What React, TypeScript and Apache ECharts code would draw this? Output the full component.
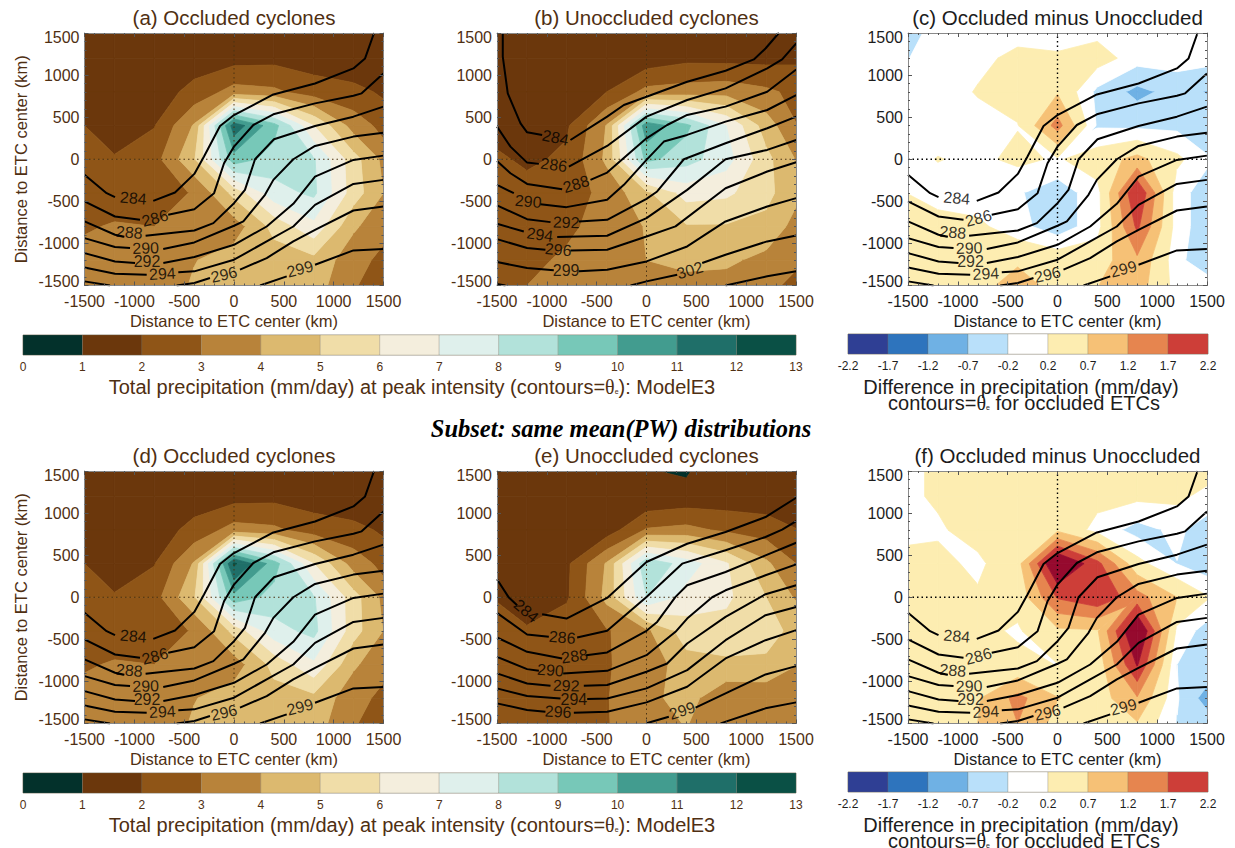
import React, { useEffect, useRef } from "react";
import * as echarts from "echarts";

const NODE_X = [-1600, -1200, -800, -400, 0, 400, 800, 1200, 1600];
const NODE_Y = [1600, 1200, 800, 400, 0, -400, -800, -1200, -1600];

const PRECIP_A = [
  [1.4, 1.4, 1.4, 1.4, 1.4, 1.4, 1.4, 1.4, 1.4],
  [1.4, 1.4, 1.4, 1.5, 1.6, 1.7, 1.5, 1.2, 1.2],
  [1.5, 1.5, 1.5, 2.3, 3.4, 3.2, 2.5, 2.3, 1.7],
  [2.1, 1.7, 1.95, 4.1, 11.6, 9.4, 6, 3.55, 2.4],
  [2.6, 2.05, 2.6, 4.9, 9.6, 8.55, 8.1, 5.4, 3.2],
  [2.3, 2.4, 2.7, 3.05, 5.3, 7.6, 8.2, 5.5, 3.5],
  [2.8, 3.1, 3, 3.5, 3.5, 5.3, 6.7, 4.15, 3.1],
  [3.3, 3.4, 3.5, 3.95, 4.5, 4.5, 4.7, 3.4, 2.5],
  [3.3, 3.3, 3.3, 4.2, 4.6, 4.6, 4.4, 3, 2.4],
];
const PRECIP_B = [
  [1.3, 1.3, 1.3, 1.3, 1.3, 1.3, 1.3, 1.3, 1.3],
  [1.3, 1.3, 1.3, 1.3, 1.4, 1.75, 1.7, 1.7, 1.85],
  [1.3, 1.3, 1.3, 2, 3.3, 3.45, 3.6, 3.2, 2.6],
  [1.7, 1.5, 1.85, 4.05, 10.7, 9.25, 7, 4.5, 2.6],
  [2.3, 1.8, 2.2, 4.2, 9.3, 8.4, 7.4, 5.3, 3.5],
  [2.5, 2.4, 2.5, 3.3, 4.8, 6.4, 6.2, 5.3, 3.9],
  [2.2, 2.3, 2.75, 3.5, 4.05, 4.9, 4.9, 4.7, 3.3],
  [2.3, 2.7, 3.2, 3.5, 4, 4.2, 4.2, 3.7, 3],
  [2.5, 3.1, 3.4, 3.4, 3.5, 3.6, 3.4, 3.1, 2.5],
];
const DIFF_C = [
  [-0.6, -0.05, 0.05, 0, 0, 0, 0.05, 0.05, 0],
  [-0.3, 0.05, 0.1, 0.3, 0.25, 0.4, 0, 0, -0.05],
  [-0.1, 0, 0.23, 0.4, 0.65, -0.3, -0.85, -0.5, -0.8],
  [0, 0, 0.05, 0.18, 1.4, -0.25, -0.3, -0.3, -0.5],
  [0, 0.22, 0.1, 0.3, 0.15, 0.45, 0.85, 0.3, -0.25],
  [0.25, 0, -0.05, -0.15, -0.45, 0.05, 2.2, -0.05, -0.5],
  [0.5, 0.4, 0.3, -0.05, -0.45, 0.05, 1.8, 0, -0.6],
  [0.5, 0.45, 0.5, 0.6, 0.5, 0.45, 1.1, -0.06, -0.7],
  [0.4, 0.4, 0.6, 1.1, 0.6, 0.75, 0.9, 0.05, 0.1],
];
const PRECIP_D = [
  [1.4, 1.4, 1.4, 1.4, 1.4, 1.4, 1.4, 1.4, 1.4],
  [1.4, 1.4, 1.4, 1.5, 1.6, 1.7, 1.5, 1.2, 1.2],
  [1.5, 1.5, 1.5, 2.3, 3.4, 3.2, 2.5, 2.3, 1.7],
  [2.1, 1.7, 1.95, 4.1, 12.2, 9.5, 6, 3.55, 2.4],
  [2.6, 2.05, 2.6, 4.9, 9.7, 8.6, 8.1, 5.4, 3.2],
  [2.3, 2.4, 2.7, 3.05, 5.3, 7.6, 8.3, 5.4, 3.5],
  [2.8, 3.1, 3, 3.5, 3.5, 5.3, 6.8, 4.15, 3.1],
  [3.3, 3.4, 3.5, 3.95, 4.5, 4.6, 4.7, 3.4, 2.5],
  [3.3, 3.3, 3.3, 4.2, 4.6, 4.6, 4.4, 3, 2.4],
];
const PRECIP_E = [
  [1.2, 1.2, 1.2, 1.2, 0.98, 0.75, 1.7, 1.2, 1.2],
  [1.2, 1.2, 1.2, 1.2, 1.1, 1.3, 1.4, 1.4, 1.2],
  [1.2, 1.2, 1.2, 1.45, 3.1, 3.3, 2.8, 2.5, 1.9],
  [1.4, 1.4, 1.8, 4.1, 8.8, 7.55, 6.1, 4.2, 2.6],
  [2.05, 1.5, 1.85, 4.3, 8, 6.6, 6.2, 5, 3.5],
  [2.3, 2.1, 2.7, 2.9, 3.8, 5.5, 5.6, 5.3, 4.6],
  [2.5, 2.5, 2.6, 2.95, 3.3, 4.6, 4.8, 4.85, 3.8],
  [2.4, 2.4, 2.5, 2.95, 3.7, 4.4, 3.2, 3.2, 3.2],
  [2.4, 2.4, 2.5, 2.95, 3.5, 3.97, 3.1, 3.1, 3.2],
];
const DIFF_F = [
  [0, 0.3, 0.4, 0.4, 0.4, 0.4, 0.35, 0.4, 0.4],
  [0.1, 0.25, 0.35, 0.4, 0.4, 0.35, 0.3, 0.3, 0],
  [0.15, 0.15, 0.35, 0.4, 0.6, 0.05, -0.35, -0.1, -0.55],
  [0.25, 0.3, 0.12, 0.5, 2.9, 1.85, 0.35, -0.21, -0.5],
  [0.3, 0.35, 0.25, 0.35, 1.75, 2.1, 1.4, 0.7, 0.1],
  [0.3, 0.35, 0.3, 0.15, 0.6, 0.65, 2.9, 0.1, -0.55],
  [0.3, 0.35, 0.4, 0.3, 0.19, 0.4, 2.25, -0.2, -0.55],
  [0.35, 0.4, 0.65, 1.35, 0.72, 0.45, 1.15, -0.15, -1.2],
  [0.35, 0.15, 0.72, 1.15, 0.45, 0.45, 0.5, -0.25, -0.5],
];

const THETA_OCCLUDED = [
  [[[-1500, -185], [-1278, -403], [-1194, -450]], [[-810, -494], [-592, -395], [-398, -174], [-301, 32], [-140, 395], [0, 525], [395, 770], [813, 900], [1198, 1079], [1315, 1198], [1405, 1500]]],
  [[[-1500, -500], [-1194, -680], [-943, -720]], [[-660, -660], [-398, -593], [-200, -403], [-100, -47], [0, 150], [194, 407], [395, 534], [813, 664], [1198, 755], [1281, 783], [1499, 1020]]],
  [[[-1500, -739], [-1194, -897], [-1100, -920]], [[-887, -909], [-398, -846], [-207, -759], [0, -522], [110, -364], [211, 0], [401, 237], [813, 395], [1198, 506], [1499, 625]]],
  [[[-1500, -937], [-1194, -1043], [-1043, -1055]], [[-710, -1067], [-398, -988], [0, -790], [94, -739], [311, -423], [395, -245], [595, 0], [813, 158], [1198, 269], [1499, 316]]],
  [[[-1500, -1115], [-1194, -1214], [-993, -1233]], [[-709, -1233], [-398, -1162], [0, -1016], [328, -799], [595, -530], [813, -206], [1198, -8], [1499, 43]]],
  [[[-1500, -1285], [-1194, -1360], [-876, -1372]], [[-559, -1344], [-398, -1332], [0, -1194], [328, -976], [595, -799], [813, -542], [1198, -293], [1499, -245]]],
  [[[-1500, -1451], [-1244, -1500]], [[-575, -1500], [-398, -1470], [-241, -1411]], [[60, -1312], [328, -1174], [595, -976], [813, -838], [1198, -609], [1499, -561]]],
  [[[261, -1500], [529, -1391]], [[813, -1253], [1198, -1083], [1499, -1067]]],
];
const LABELS_OCCLUDED = [
  [-1010, -462, "284", -5], [-793, -700, "286", 15], [-1050, -870, "288", -5], [-886, -1055, "290", 2],
  [-873, -1213, "292", 0], [-719, -1360, "294", 3], [-100, -1372, "296", 13], [662, -1304, "299", 15],
];

const THETA_B = [
  [[[-1442, 1500], [-1442, 1218], [-1392, 783], [-1264, 427], [-1198, 320], [-1047, 289]], [[-763, 229], [-395, 506], [-227, 644], [0, 743], [408, 921], [793, 1051], [1077, 1186], [1194, 1316], [1328, 1500]]],
  [[[-1500, 387], [-1365, 150], [-1198, -40], [-1080, -55]], [[-779, -87], [-395, 158], [0, 506], [408, 704], [793, 842], [1211, 1079], [1361, 1186], [1502, 1376]]],
  [[[-1500, -20], [-1365, -166], [-1198, -293], [-846, -356]], [[-562, -245], [-395, -158], [0, 249], [207, 407], [408, 526], [793, 625], [1211, 802], [1502, 1067]]],
  [[[-1500, -304], [-1331, -403]], [[-1064, -534], [-803, -569], [-395, -482], [-227, -304], [0, -8], [174, 210], [408, 289], [793, 447], [1211, 585], [1502, 763]]],
  [[[-1500, -549], [-1198, -712], [-963, -747]], [[-679, -739], [-395, -719], [0, -470], [107, -383], [375, 0], [793, 190], [1211, 368], [1502, 506]]],
  [[[-1500, -767], [-1231, -858]], [[-896, -925], [-395, -909], [0, -700], [408, -364], [793, 0], [1211, 111], [1502, 229]]],
  [[[-1500, -949], [-1198, -1055], [-1014, -1075]], [[-763, -1083], [-395, -1075], [0, -917], [291, -798], [793, -344], [1211, -146], [1502, -36]]],
  [[[-1500, -1221], [-1198, -1293], [-930, -1320]], [[-679, -1332], [-395, -1312], [0, -1214], [408, -1036], [793, -739], [1211, -561], [1502, -462]]],
  [[[-1500, -1482], [-1415, -1500]], [[-160, -1500], [0, -1451], [308, -1372]], [[559, -1233], [793, -1134], [1211, -976], [1502, -905]]],
  [[[793, -1500], [1211, -1391], [1502, -1332]]],
];
const LABELS_B = [
  [-913, 257, "284", -12], [-930, -67, "286", -8], [-706, -296, "288", 17], [-1187, -502, "290", -5],
  [-806, -751, "292", -2], [-1070, -897, "294", -8], [-886, -1075, "296", -5], [-806, -1320, "299", 0], [435, -1320, "302", 17],
];

const THETA_E = [
  [[[-1500, 213], [-1381, -4], [-1298, -95]], [[-1047, -202], [-803, -253], [-395, -8], [0, 419], [408, 636], [793, 775], [1194, 953], [1502, 1182]]],
  [[[-1500, -186], [-1198, -443], [-980, -470]], [[-696, -478], [-395, -399], [0, 4], [358, 399], [793, 558], [1194, 716], [1361, 803], [1502, 905]]],
  [[[-1500, -478], [-1198, -648], [-846, -727]], [[-605, -688], [-395, -656], [0, -399], [107, -293], [291, 4], [408, 142], [793, 300], [1194, 498], [1502, 648]]],
  [[[-1500, -708], [-1198, -854], [-1080, -874]], [[-836, -905], [-395, -874], [0, -688], [291, -411], [408, -253], [659, 0], [793, 83], [1194, 261], [1502, 391]]],
  [[[-1500, -905], [-1198, -1024], [-963, -1051]], [[-629, -1051], [-395, -1043], [0, -885], [207, -787], [408, -549], [793, -233], [1194, 36], [1502, 142]]],
  [[[-1500, -1083], [-1198, -1174], [-863, -1202]], [[-595, -1210], [-395, -1202], [0, -1083], [408, -866], [793, -510], [1194, -213], [1502, -115]]],
  [[[-1500, -1261], [-1198, -1340], [-1014, -1360]], [[-729, -1372], [-395, -1360], [0, -1249], [408, -1063], [793, -727], [1194, -510], [1502, -391]]],
  [[[0, -1498], [224, -1419]], [[492, -1312], [793, -1142], [1194, -917], [1502, -818]]],
  [[[743, -1498], [1194, -1320], [1502, -1249]]],
];
const LABELS_E = [
  [-1207, -162, "284", -40], [-846, -478, "286", -5], [-722, -700, "288", 8], [-963, -866, "290", -4],
  [-806, -1051, "292", -2], [-729, -1210, "294", 0], [-886, -1360, "296", -3], [358, -1348, "299", 18],
];

const PRECIP_EDGES = [-1, 1, 2, 3, 4, 5, 6, 7, 8, 9, 10, 11, 12, 14];
const PRECIP_COLORS = ["#03312b", "#6b370c", "#8f5517", "#b8833a", "#dcb96f", "#f0dda8", "#f4eedd", "#dff0ec", "#b2e2da", "#77c8b8", "#429c8f", "#1f6f69", "#0a5045"];
const PRECIP_TICKS = ["0", "1", "2", "3", "4", "5", "6", "7", "8", "9", "10", "11", "12", "13"];

const DIFF_EDGES = [-5, -1.7, -1.2, -0.7, -0.2, 0.2, 0.7, 1.2, 1.7, 2.2, 5];
const DIFF_FILLS = ["#2e74bd", "#2e74bd", "#6fb1e4", "#b9e0fa", "#ffffff", "#fdedb1", "#f6c176", "#e6854f", "#cd3e38", "#960a2e"];
const DIFF_BAR_COLORS = ["#2f3f94", "#2e74bd", "#6fb1e4", "#b9e0fa", "#ffffff", "#fdedb1", "#f6c176", "#e6854f", "#cd3e38"];
const DIFF_TICKS = ["-2.2", "-1.7", "-1.2", "-0.7", "-0.2", "0.2", "0.7", "1.2", "1.7", "2.2"];

const AXIS_TICKS_NAME = "Distance to ETC center (km)";
const BROWN = "#4f2f12";
const DARK = "#1c1c1c";
const FONT = "'Liberation Sans', Arial, sans-serif";

type P = [number, number, number];

function clipHalf(poly: P[], level: number, keepAbove: boolean): P[] {
  const out: P[] = [];
  const inside = (p: P) => (keepAbove ? p[2] >= level : p[2] <= level);
  for (let i = 0; i < poly.length; i++) {
    const a = poly[i];
    const b = poly[(i + 1) % poly.length];
    if (inside(a)) out.push(a);
    if (inside(a) !== inside(b)) {
      const t = (level - a[2]) / (b[2] - a[2]);
      out.push([a[0] + (b[0] - a[0]) * t, a[1] + (b[1] - a[1]) * t, level]);
    }
  }
  return out;
}

function cellsOf(grid: number[][]) {
  const cells: number[][] = [];
  for (let r = 0; r + 1 < NODE_Y.length; r++) {
    for (let c = 0; c + 1 < NODE_X.length; c++) {
      cells.push([NODE_X[c], NODE_Y[r + 1], NODE_X[c + 1], NODE_Y[r], grid[r + 1][c], grid[r + 1][c + 1], grid[r][c], grid[r][c + 1]]);
    }
  }
  return cells;
}

function contourRender(edges: number[], colors: string[]) {
  return (_params: any, api: any) => {
    const x0 = api.value(0), y0 = api.value(1), x1 = api.value(2), y1 = api.value(3);
    const vll = api.value(4), vlr = api.value(5), vul = api.value(6), vur = api.value(7);
    const ll: P = [x0, y0, vll], lr: P = [x1, y0, vlr], ur: P = [x1, y1, vur], ul: P = [x0, y1, vul];
    // a cell whose corners alternate around a level is split along the diagonal of its closest corners
    const saddle = edges.some((l) => (vll - l) * (vur - l) > 0 && (vul - l) * (vlr - l) > 0 && (vll - l) * (vul - l) < 0);
    const pieces: P[][] = !saddle
      ? [[ll, lr, ur, ul]]
      : Math.abs(vll - vur) < Math.abs(vul - vlr)
        ? [[ll, lr, ur], [ll, ur, ul]]
        : [[ul, ll, lr], [ul, lr, ur]];
    const children: any[] = [];
    for (const piece of pieces) {
      for (let b = 0; b < colors.length; b++) {
        let poly = clipHalf(piece, edges[b], true);
        if (poly.length) poly = clipHalf(poly, edges[b + 1], false);
        if (poly.length < 3) continue;
        children.push({
          type: "polygon",
          shape: { points: poly.map((p) => api.coord([p[0], p[1]])) },
          style: { fill: colors[b], stroke: colors[b], lineWidth: 0.8, lineJoin: "round" },
          silent: true,
        });
      }
    }
    return { type: "group", children };
  };
}

const ROW_TOPS = [33, 471];
const PLOT_H = 252.5;
const PLOT_W = 299;
const COL_LEFTS = [84.5, 497, 908];

const PANELS = [
  { title: "(a) Occluded cyclones", grid: PRECIP_A, col: 0, row: 0, lines: THETA_OCCLUDED, labels: LABELS_OCCLUDED, kind: "p" },
  { title: "(b) Unoccluded cyclones", grid: PRECIP_B, col: 1, row: 0, lines: THETA_B, labels: LABELS_B, kind: "p" },
  { title: "(c) Occluded minus Unoccluded", grid: DIFF_C, col: 2, row: 0, lines: THETA_OCCLUDED, labels: LABELS_OCCLUDED, kind: "d" },
  { title: "(d) Occluded cyclones", grid: PRECIP_D, col: 0, row: 1, lines: THETA_OCCLUDED, labels: LABELS_OCCLUDED, kind: "p" },
  { title: "(e) Unoccluded cyclones", grid: PRECIP_E, col: 1, row: 1, lines: THETA_E, labels: LABELS_E, kind: "p" },
  { title: "(f) Occluded minus Unoccluded", grid: DIFF_F, col: 2, row: 1, lines: THETA_OCCLUDED, labels: LABELS_OCCLUDED, kind: "d" },
];

function buildOption() {
  const grids: any[] = [];
  const xAxes: any[] = [];
  const yAxes: any[] = [];
  const series: any[] = [];
  const titles: any[] = [];
  const graphics: any[] = [];
  const plain = (v: number) => String(v);

  PANELS.forEach((p) => {
    const color = p.kind === "p" ? BROWN : DARK;
    const left = COL_LEFTS[p.col];
    const top = ROW_TOPS[p.row];
    const gi = grids.length;
    grids.push({ left, top, width: PLOT_W, height: PLOT_H });
    const frame = { show: true, onZero: false, lineStyle: { color: "#8a8a8a", width: 1 } };
    const ticks = { show: true, inside: true, length: 4, lineStyle: { color: "#555", width: 1 } };
    const minor = { show: true, splitNumber: 5, length: 2, lineStyle: { color: "#555", width: 1 } };
    const common = { type: "value", min: -1500, max: 1500, interval: 500, gridIndex: gi, splitLine: { show: false }, axisLine: frame, axisTick: ticks, minorTick: minor, z: 5 };
    const xi = xAxes.length;
    const yi = yAxes.length;
    xAxes.push({
      ...common, position: "bottom", name: AXIS_TICKS_NAME, nameLocation: "center", nameGap: 27,
      nameTextStyle: { color, fontSize: 16.5, fontFamily: FONT },
      axisLabel: { color, fontSize: 16, fontFamily: FONT, margin: 8, showMinLabel: true, showMaxLabel: true, hideOverlap: false, formatter: plain },
    });
    xAxes.push({ ...common, position: "top", axisLabel: { show: false } });
    yAxes.push({
      ...common, position: "left",
      ...(p.col === 0 ? { name: AXIS_TICKS_NAME, nameLocation: "center", nameGap: 55, nameRotate: 90, nameTextStyle: { color, fontSize: 16.5, fontFamily: FONT } } : {}),
      axisLabel: { color, fontSize: 16, fontFamily: FONT, margin: 5, lineHeight: 8, verticalAlignMinLabel: "bottom", verticalAlignMaxLabel: "top", showMinLabel: true, showMaxLabel: true, formatter: plain },
    });
    yAxes.push({ ...common, position: "right", axisLabel: { show: false } });

    titles.push({
      text: p.title, left: left + PLOT_W / 2 - 5, top: top - 31, textAlign: "center",
      textStyle: { color, fontSize: 20.5, fontWeight: "normal", fontFamily: FONT },
    });

    const isP = p.kind === "p";
    series.push({
      type: "custom", xAxisIndex: xi, yAxisIndex: yi, clip: true, silent: true, z: 1,
      coordinateSystem: "cartesian2d",
      encode: { x: 0, y: 1 },
      data: cellsOf(p.grid),
      renderItem: contourRender(isP ? PRECIP_EDGES : DIFF_EDGES, isP ? PRECIP_COLORS : DIFF_FILLS),
    });
    const dotColor = isP ? "#4a3212" : "#000";
    [[[0, -1500], [0, 1500]], [[-1500, 0], [1500, 0]]].forEach((seg) => {
      series.push({
        type: "line", xAxisIndex: xi, yAxisIndex: yi, data: seg, symbol: "none", silent: true, z: 2,
        lineStyle: { color: dotColor, width: isP ? 1 : 1.4, type: [1.5, 3] },
      });
    });
    p.lines.forEach((segs: any) => {
      const data: any[] = [];
      segs.forEach((s: any, i: number) => {
        if (i) data.push(["-", "-"]);
        s.forEach((pt: any) => data.push(pt));
      });
      series.push({
        type: "line", xAxisIndex: xi, yAxisIndex: yi, data, symbol: "none", silent: true, z: 3,
        connectNulls: false, lineStyle: { color: "#000", width: 2 },
      });
    });
    series.push({
      type: "scatter", xAxisIndex: xi, yAxisIndex: yi, symbolSize: 0, silent: true, z: 4, clip: false,
      data: p.labels.map((l: any) => ({
        value: [l[0], l[1]],
        label: { show: true, position: "inside", formatter: l[2], rotate: l[3], color: "#000", fontSize: 16, fontFamily: FONT, textBorderWidth: 0 },
      })),
    });
  });

  const addBar = (left: number, width: number, top: number, ticks: string[], colors: string[], color: string, fs: number) => {
    const gi = grids.length;
    grids.push({ left, width, top, height: 20, show: true, borderColor: "#b0aca4", borderWidth: 1 });
    const xi = xAxes.length;
    const yi = yAxes.length;
    xAxes.push({
      type: "category", gridIndex: gi, data: ticks, boundaryGap: false, position: "bottom",
      axisLine: { show: false }, axisTick: { show: false },
      axisLabel: { color, fontSize: fs, fontFamily: FONT, margin: 6, interval: 0, showMinLabel: true, showMaxLabel: true },
    });
    yAxes.push({ type: "value", gridIndex: gi, min: 0, max: 1, show: false });
    series.push({
      type: "custom", xAxisIndex: xi, yAxisIndex: yi, silent: true, z: 1,
      encode: { x: 0, y: 1 },
      data: colors.map((_c, i) => [i, 0]),
      renderItem: (params: any, api: any) => {
        const i = params.dataIndex;
        const a = api.coord([i, 0]);
        const b = api.coord([i + 1, 1]);
        return {
          type: "rect",
          shape: { x: a[0], y: b[1], width: b[0] - a[0], height: a[1] - b[1] },
          style: { fill: colors[i], stroke: "rgba(120,110,90,0.5)", lineWidth: 0.5 },
        };
      },
    });
  };

  const rich = (color: string, fs: number) => ({
    n: { fontSize: fs, fontFamily: FONT, fill: color, color, lineHeight: 14 },
    th: { fontSize: fs, fontFamily: "'Liberation Serif', serif", fill: color, color, lineHeight: 14 },
    s: { fontSize: 7, fontFamily: FONT, fill: color, color, lineHeight: 14, padding: [9, 0, 0, 0] },
  });

  [0, 438].forEach((dy) => {
    addBar(23, 773, 335 + dy, PRECIP_TICKS, PRECIP_COLORS, BROWN, 12);
    addBar(848, 360, 334 + dy, DIFF_TICKS, DIFF_BAR_COLORS, DARK, 12);
    graphics.push({
      type: "text", x: 412, y: 387 + dy,
      style: {
        text: "{n|Total precipitation (mm/day) at peak intensity (contours=}{th|θ}{s|e}{n|): ModelE3}",
        rich: rich(BROWN, 20), align: "center", verticalAlign: "middle",
      },
    });
    graphics.push({
      type: "text", x: 1021, y: 387 + dy,
      style: { text: "Difference in precipitation (mm/day)", fontSize: 20, lineHeight: 14, fontFamily: FONT, fill: DARK, align: "center", verticalAlign: "middle" },
    });
    graphics.push({
      type: "text", x: 1024, y: 403 + dy,
      style: {
        text: "{n|contours=}{th|θ}{s|e}{n| for occluded ETCs}",
        rich: rich(DARK, 20), align: "center", verticalAlign: "middle",
      },
    });
  });
  graphics.push({
    type: "text", x: 621, y: 428,
    style: {
      text: "Subset: same mean(PW) distributions", fontSize: 24.5, fontWeight: "bold", fontStyle: "italic",
      fontFamily: "'Liberation Serif', serif", fill: "#000", align: "center", verticalAlign: "middle",
    },
  });

  return { animation: false, backgroundColor: "#fff", title: titles, grid: grids, xAxis: xAxes, yAxis: yAxes, series, graphic: graphics };
}

export default function App() {
  const ref = useRef<HTMLDivElement>(null);
  useEffect(() => {
    const chart = echarts.init(ref.current as HTMLDivElement, undefined, { renderer: "svg" });
    chart.setOption(buildOption() as any);
    return () => chart.dispose();
  }, []);
  return <div ref={ref} style={{ position: "absolute", left: 0, top: 0, width: 1235, height: 848 }} />;
}
